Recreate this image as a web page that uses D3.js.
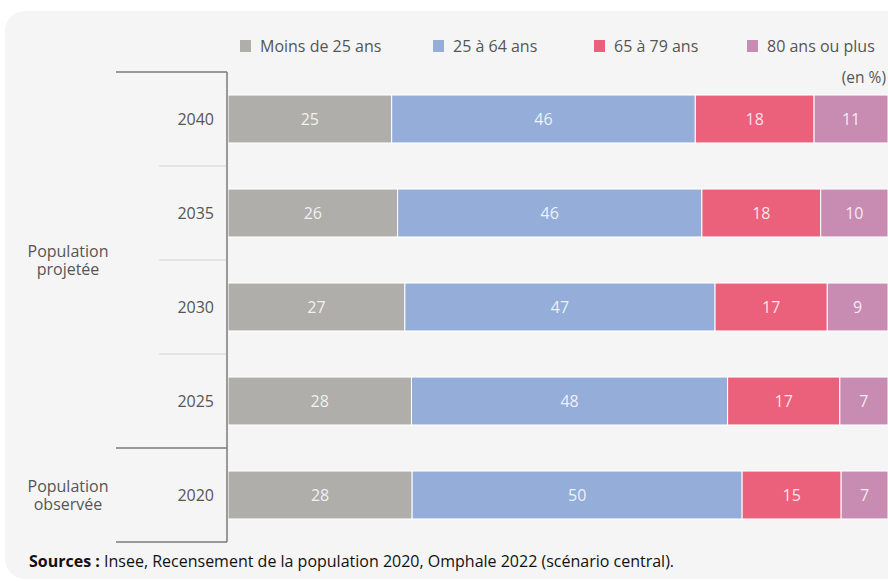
<!DOCTYPE html>
<html>
<head>
<meta charset="utf-8">
<script src="https://cdn.jsdelivr.net/npm/d3@7"></script>
<style>
  body { margin: 0; background: #fff; }
  svg { display: block; font-family: "Open Sans", sans-serif; }
</style>
</head>
<body>
<div id="vis"></div>
<script>
// values (share of population, %)
const years = ["2040", "2035", "2030", "2025", "2020"]
const groups = ["Moins de 25 ans", "25 à 64 ans", "65 à 79 ans", "80 ans ou plus"]
const under25 = [24.8, 25.7, 26.8, 27.8, 27.9]
const age25to64 = [46.0, 46.1, 47.0, 47.9, 50.0]
const age65to79 = [18.0, 18.0, 17.0, 17.0, 15.0]
const over80 = [11.2, 10.2, 9.2, 7.3, 7.1]
const colors = ["#afaeab", "#95aed9", "#eb617c", "#c88bb2"]
const periods = [
  {label: ["Population", "projetée"], years: ["2040", "2035", "2030", "2025"]},
  {label: ["Population", "observée"], years: ["2020"]}
]

const width = 888, height = 581

let rows = years.map((y, i) => ({
  year: y,
  [groups[0]]: under25[i],
  [groups[1]]: age25to64[i],
  [groups[2]]: age65to79[i],
  [groups[3]]: over80[i]
}))
let series = d3.stack().keys(groups)(rows)

let x = d3.scaleLinear().domain([0, 100]).range([228, 888])
let y = d3.scaleBand().domain(years).range([72, 542]).paddingInner(0.49).paddingOuter(0.245)
let color = d3.scaleOrdinal().domain(groups).range(colors)

let svg = d3.select("#vis").append("svg")
    .attr("width", width)
    .attr("height", height)

svg.append("rect")
    .attr("x", 5).attr("y", 11)
    .attr("width", 920).attr("height", 568)
    .attr("rx", 20)
    .attr("fill", "#f5f5f5")

// legend
let legendX = [240, 433, 594, 747]
let legend = svg.append("g")
    .selectAll("g")
    .data(groups)
    .join("g")
    .attr("transform", (d, i) => `translate(${legendX[i]},46)`)
legend.append("rect")
    .attr("y", -6).attr("width", 11).attr("height", 12)
    .attr("fill", d => color(d))
legend.append("text")
    .attr("x", 20).attr("dy", "0.35em")
    .attr("font-size", 16).attr("fill", "#555")
    .text(d => d)

svg.append("text")
    .attr("x", 886).attr("y", 78).attr("dy", "0.35em")
    .attr("text-anchor", "end")
    .attr("font-size", 15.5).attr("fill", "#555")
    .text("(en %)")

// bars
let layer = svg.append("g")
    .selectAll("g")
    .data(series)
    .join("g")
    .attr("fill", d => color(d.key))

layer.selectAll("rect")
    .data(d => d)
    .join("rect")
    .attr("x", d => x(d[0]))
    .attr("y", d => y(d.data.year))
    .attr("width", d => x(d[1]) - x(d[0]))
    .attr("height", y.bandwidth())
    .attr("stroke", "#fff")
    .attr("stroke-width", 1)

layer.selectAll("text")
    .data(d => d)
    .join("text")
    .attr("x", d => (x(d[0]) + x(d[1])) / 2)
    .attr("y", d => y(d.data.year) + y.bandwidth() / 2)
    .attr("dy", "0.35em")
    .attr("text-anchor", "middle")
    .attr("font-size", 16)
    .attr("fill", "#fff")
    .attr("fill-opacity", 0.85)
    .text(d => d3.format(".0f")(d[1] - d[0]))

// year axis
let step = y.step()
let axisTop = y.range()[0]
let axis = svg.append("g")
axis.selectAll("text")
    .data(years)
    .join("text")
    .attr("x", 214)
    .attr("y", d => y(d) + y.bandwidth() / 2)
    .attr("dy", "0.35em")
    .attr("text-anchor", "end")
    .attr("font-size", 16).attr("fill", "#555")
    .text(d => d)

// light separators between years of the same period
let inner = []
let start = 0
periods.forEach(p => {
  for (let k = 1; k < p.years.length; k++) inner.push(start + k)
  start += p.years.length
})
axis.selectAll("line.sep")
    .data(inner)
    .join("line")
    .attr("class", "sep")
    .attr("x1", 159).attr("x2", 226)
    .attr("y1", d => axisTop + d * step).attr("y2", d => axisTop + d * step)
    .attr("stroke", "#dedede").attr("stroke-width", 1.5)

// period boundaries
let bounds = [0]
start = 0
periods.forEach(p => { start += p.years.length; bounds.push(start) })
axis.selectAll("line.bound")
    .data(bounds)
    .join("line")
    .attr("class", "bound")
    .attr("x1", 116).attr("x2", 227)
    .attr("y1", d => axisTop + d * step).attr("y2", d => axisTop + d * step)
    .attr("stroke", "#7a7a7a").attr("stroke-width", 1.5)

axis.append("line")
    .attr("x1", 227).attr("x2", 227)
    .attr("y1", axisTop).attr("y2", axisTop + years.length * step)
    .attr("stroke", "#7a7a7a").attr("stroke-width", 1.5)

// period labels, two lines each
start = 0
periods.forEach(p => {
  let mid = axisTop + (start + p.years.length / 2) * step
  start += p.years.length
  axis.append("g")
      .selectAll("text")
      .data(p.label)
      .join("text")
      .attr("x", 68)
      .attr("y", (d, i) => mid + (i == 0 ? -9 : 9))
      .attr("dy", "0.35em")
      .attr("text-anchor", "middle")
      .attr("font-size", 16).attr("fill", "#555")
      .text(d => d)
})

// source
let src = svg.append("text")
    .attr("x", 29).attr("y", 561).attr("dy", "0.35em")
    .attr("font-size", 16).attr("fill", "#111")
src.append("tspan").attr("font-weight", "bold").text("Sources :")
src.append("tspan").text(" Insee, Recensement de la population 2020, Omphale 2022 (scénario central).")
</script>
</body>
</html>
